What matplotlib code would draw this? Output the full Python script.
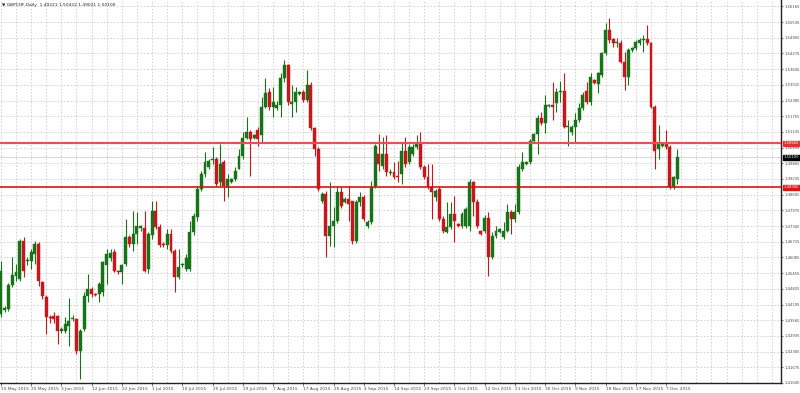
import matplotlib
matplotlib.use("Agg")
import matplotlib.pyplot as plt
import numpy as np

# ---------------- data (GBPCHF daily candles) ----------------
opens = [
    1.4382, 1.4398, 1.4402, 1.4498, 1.4534, 1.4522, 1.4674, 1.4594, 1.4594, 1.4622,
    1.4662, 1.4510, 1.4450, 1.4370, 1.4374, 1.4374, 1.4314, 1.4314, 1.4334, 1.4362,
    1.4362, 1.4234, 1.4322, 1.4454, 1.4482, 1.4462, 1.4462, 1.4470, 1.4578, 1.4606,
    1.4630, 1.4554, 1.4550, 1.4582, 1.4690, 1.4662, 1.4702, 1.4726, 1.4726, 1.4562,
    1.4698, 1.4794, 1.4730, 1.4662, 1.4658, 1.4702, 1.4634, 1.4530, 1.4578, 1.4562,
    1.4562, 1.4710, 1.4770, 1.4882, 1.4942, 1.4970, 1.4998, 1.5002, 1.4910, 1.4990,
    1.4890, 1.4910, 1.4922, 1.4962, 1.5014, 1.5090, 1.5114, 1.5090, 1.5122, 1.5102,
    1.5214, 1.5274, 1.5214, 1.5210, 1.5222, 1.5330, 1.5382, 1.5226, 1.5234, 1.5266,
    1.5274, 1.5242, 1.5302, 1.5130, 1.5042, 1.4834, 1.4862, 1.4694, 1.4734, 1.4754,
    1.4870, 1.4830, 1.4842, 1.4834, 1.4674, 1.4830, 1.4850, 1.4734, 1.4750, 1.4894,
    1.5022, 1.4974, 1.5022, 1.4946, 1.4950, 1.4934, 1.4942, 1.5034, 1.4990, 1.5022,
    1.5050, 1.5062, 1.4970, 1.4930, 1.4890, 1.4850, 1.4882, 1.4762, 1.4710, 1.4730,
    1.4782, 1.4742, 1.4734, 1.4734, 1.4734, 1.4910, 1.4830, 1.4714, 1.4714, 1.4766,
    1.4610, 1.4694, 1.4710, 1.4690, 1.4714, 1.4790, 1.4762, 1.4790, 1.4962, 1.4982,
    1.4990, 1.5074, 1.5106, 1.5170, 1.5150, 1.5218, 1.5222, 1.5230, 1.5274, 1.5278,
    1.5134, 1.5114, 1.5134, 1.5162, 1.5210, 1.5278, 1.5234, 1.5322, 1.5306, 1.5342,
    1.5430, 1.5522, 1.5486, 1.5470, 1.5470, 1.5394, 1.5334, 1.5442, 1.5450, 1.5470,
    1.5482, 1.5486, 1.5470, 1.5214, 1.5042, 1.5054, 1.5066, 1.5050, 1.4890, 1.4922,
]
highs = [
    1.4594, 1.4414, 1.4506, 1.4610, 1.4582, 1.4682, 1.4690, 1.4610, 1.4642, 1.4674,
    1.4670, 1.4514, 1.4458, 1.4378, 1.4390, 1.4378, 1.4330, 1.4370, 1.4446, 1.4378,
    1.4366, 1.4322, 1.4470, 1.4542, 1.4490, 1.4466, 1.4510, 1.4594, 1.4642, 1.4642,
    1.4642, 1.4558, 1.4582, 1.4762, 1.4698, 1.4794, 1.4790, 1.4738, 1.4794, 1.4710,
    1.4834, 1.4834, 1.4742, 1.4670, 1.4722, 1.4722, 1.4642, 1.4642, 1.4586, 1.4622,
    1.4754, 1.4786, 1.4894, 1.4954, 1.5030, 1.5002, 1.5050, 1.5010, 1.5062, 1.4998,
    1.4942, 1.4926, 1.4970, 1.5042, 1.5114, 1.5174, 1.5122, 1.5106, 1.5134, 1.5254,
    1.5330, 1.5290, 1.5294, 1.5238, 1.5350, 1.5402, 1.5386, 1.5302, 1.5294, 1.5278,
    1.5282, 1.5362, 1.5314, 1.5134, 1.5050, 1.4870, 1.4874, 1.4910, 1.4810, 1.4894,
    1.4890, 1.4850, 1.4894, 1.4834, 1.4838, 1.4870, 1.4858, 1.4758, 1.4914, 1.5062,
    1.5106, 1.5094, 1.5102, 1.4962, 1.4990, 1.4994, 1.5070, 1.5094, 1.5062, 1.5062,
    1.5102, 1.5114, 1.4978, 1.4982, 1.4982, 1.4882, 1.4890, 1.4774, 1.4830, 1.4830,
    1.4854, 1.4746, 1.4790, 1.4810, 1.4922, 1.4914, 1.4842, 1.4718, 1.4778, 1.4790,
    1.4710, 1.4734, 1.4726, 1.4750, 1.4822, 1.4798, 1.4822, 1.4982, 1.5030, 1.4994,
    1.5082, 1.5110, 1.5182, 1.5194, 1.5262, 1.5226, 1.5314, 1.5290, 1.5318, 1.5350,
    1.5162, 1.5142, 1.5190, 1.5230, 1.5274, 1.5314, 1.5350, 1.5326, 1.5354, 1.5434,
    1.5550, 1.5570, 1.5490, 1.5490, 1.5482, 1.5434, 1.5450, 1.5454, 1.5482, 1.5490,
    1.5502, 1.5542, 1.5474, 1.5222, 1.5142, 1.5070, 1.5122, 1.5058, 1.4934, 1.5042,
]
lows = [
    1.4370, 1.4390, 1.4394, 1.4490, 1.4514, 1.4514, 1.4530, 1.4578, 1.4562, 1.4582,
    1.4494, 1.4442, 1.4302, 1.4346, 1.4346, 1.4262, 1.4306, 1.4306, 1.4254, 1.4354,
    1.4222, 1.4122, 1.4314, 1.4430, 1.4450, 1.4454, 1.4430, 1.4454, 1.4502, 1.4594,
    1.4550, 1.4542, 1.4502, 1.4574, 1.4650, 1.4634, 1.4662, 1.4714, 1.4550, 1.4546,
    1.4682, 1.4722, 1.4650, 1.4650, 1.4642, 1.4626, 1.4470, 1.4522, 1.4570, 1.4554,
    1.4554, 1.4698, 1.4754, 1.4874, 1.4930, 1.4962, 1.4982, 1.4894, 1.4894, 1.4834,
    1.4850, 1.4906, 1.4914, 1.4962, 1.5002, 1.5082, 1.4934, 1.5086, 1.5054, 1.5070,
    1.5210, 1.5202, 1.5174, 1.5202, 1.5174, 1.5314, 1.5222, 1.5174, 1.5194, 1.5262,
    1.5234, 1.5234, 1.5122, 1.5014, 1.4874, 1.4826, 1.4610, 1.4654, 1.4650, 1.4746,
    1.4806, 1.4826, 1.4754, 1.4662, 1.4666, 1.4814, 1.4754, 1.4726, 1.4742, 1.4886,
    1.4954, 1.4962, 1.4934, 1.4938, 1.4922, 1.4910, 1.4902, 1.4970, 1.4982, 1.5014,
    1.5042, 1.4962, 1.4922, 1.4882, 1.4762, 1.4834, 1.4754, 1.4706, 1.4706, 1.4722,
    1.4670, 1.4730, 1.4726, 1.4726, 1.4714, 1.4774, 1.4726, 1.4698, 1.4706, 1.4534,
    1.4602, 1.4686, 1.4706, 1.4682, 1.4710, 1.4702, 1.4750, 1.4782, 1.4954, 1.4978,
    1.4982, 1.5070, 1.5022, 1.5142, 1.5110, 1.5214, 1.5162, 1.5194, 1.5234, 1.5130,
    1.5054, 1.5102, 1.5070, 1.5154, 1.5202, 1.5226, 1.5222, 1.5306, 1.5270, 1.5334,
    1.5422, 1.5470, 1.5454, 1.5454, 1.5390, 1.5282, 1.5302, 1.5434, 1.5442, 1.5462,
    1.5434, 1.5462, 1.5210, 1.4962, 1.5002, 1.5050, 1.5042, 1.4882, 1.4882, 1.4902,
]
closes = [
    1.4554, 1.4406, 1.4498, 1.4538, 1.4550, 1.4674, 1.4554, 1.4598, 1.4630, 1.4662,
    1.4514, 1.4454, 1.4370, 1.4366, 1.4362, 1.4314, 1.4322, 1.4342, 1.4354, 1.4366,
    1.4234, 1.4314, 1.4454, 1.4482, 1.4462, 1.4458, 1.4502, 1.4590, 1.4622, 1.4626,
    1.4554, 1.4550, 1.4578, 1.4690, 1.4662, 1.4702, 1.4734, 1.4734, 1.4554, 1.4702,
    1.4794, 1.4730, 1.4658, 1.4658, 1.4702, 1.4634, 1.4530, 1.4570, 1.4582, 1.4606,
    1.4710, 1.4774, 1.4882, 1.4942, 1.4990, 1.4994, 1.5002, 1.4902, 1.4982, 1.4894,
    1.4922, 1.4922, 1.4954, 1.5014, 1.5090, 1.5114, 1.5082, 1.5102, 1.5082, 1.5214,
    1.5270, 1.5214, 1.5234, 1.5222, 1.5330, 1.5382, 1.5234, 1.5234, 1.5274, 1.5274,
    1.5242, 1.5302, 1.5130, 1.5042, 1.4882, 1.4862, 1.4694, 1.4734, 1.4754, 1.4870,
    1.4814, 1.4842, 1.4822, 1.4674, 1.4830, 1.4850, 1.4762, 1.4750, 1.4890, 1.5054,
    1.4982, 1.5022, 1.4950, 1.4950, 1.4930, 1.4930, 1.5034, 1.4982, 1.5050, 1.5050,
    1.5062, 1.4970, 1.4930, 1.4890, 1.4870, 1.4874, 1.4762, 1.4714, 1.4730, 1.4782,
    1.4754, 1.4734, 1.4782, 1.4802, 1.4910, 1.4830, 1.4734, 1.4702, 1.4766, 1.4610,
    1.4694, 1.4714, 1.4722, 1.4714, 1.4790, 1.4762, 1.4790, 1.4970, 1.4990, 1.4990,
    1.5074, 1.5106, 1.5170, 1.5150, 1.5222, 1.5222, 1.5214, 1.5274, 1.5278, 1.5134,
    1.5138, 1.5134, 1.5162, 1.5210, 1.5262, 1.5234, 1.5334, 1.5310, 1.5350, 1.5430,
    1.5522, 1.5482, 1.5470, 1.5474, 1.5394, 1.5334, 1.5442, 1.5450, 1.5474, 1.5482,
    1.5484, 1.5470, 1.5214, 1.5034, 1.5062, 1.5066, 1.5050, 1.4890, 1.4930, 1.5010,
]

date_labels = ["15 May 2015", "25 May 2015", "3 Jun 2015", "12 Jun 2015", "22 Jun 2015",
               "1 Jul 2015", "10 Jul 2015", "20 Jul 2015", "29 Jul 2015", "7 Aug 2015",
               "17 Aug 2015", "26 Aug 2015", "4 Sep 2015", "14 Sep 2015", "23 Sep 2015",
               "2 Oct 2015", "12 Oct 2015", "21 Oct 2015", "30 Oct 2015", "9 Nov 2015",
               "18 Nov 2015", "27 Nov 2015", "7 Dec 2015"]
label_every = 8

price_ticks = [1.41045, 1.41675, 1.42305, 1.42935, 1.43565, 1.44195, 1.44825, 1.45455,
               1.46085, 1.46715, 1.47345, 1.47975, 1.48605, 1.49235, 1.49865, 1.50495,
               1.51125, 1.51755, 1.52385, 1.53015, 1.53645, 1.54275, 1.54905, 1.55535,
               1.56165]

level_lines = [1.5066, 1.4890]
title_text = "\u25bc GBPCHF,Daily  1.49221 1.50422 1.49021 1.50100"

# ---------------- figure ----------------
W, H = 800, 393
fig = plt.figure(figsize=(W / 100, H / 100), dpi=100)
fig.patch.set_facecolor("white")
ax = fig.add_axes([0.0, 10 / H, 781 / W, 383 / H])
ax.set_facecolor("white")

n = len(opens)
x = np.arange(n)
o = np.array(opens); h = np.array(highs); l = np.array(lows); c = np.array(closes)
up = c >= o
col_up = "#177317"
col_dn = "#c8161c"
colors = np.where(up, col_up, col_dn)

ax.vlines(x, l, h, colors=colors, linewidth=0.8, zorder=3)
bottoms = np.minimum(o, c)
heights = np.maximum(np.abs(c - o), 0.00012)
ax.bar(x, heights, bottom=bottoms, width=0.78, color=colors, edgecolor=colors,
       linewidth=0.3, zorder=4)

ax.set_xlim(-0.24, 206.4)
ax.set_ylim(1.4110, 1.5642)

# grid
for gx in range(0, 208, 4):
    ax.axvline(gx, color="#cccccc", linewidth=0.6, linestyle=(0, (2, 2)), zorder=1)
for gy in price_ticks:
    ax.axhline(gy, color="#cccccc", linewidth=0.6, linestyle=(0, (2, 2)), zorder=1)

# level lines
ax.axhline(level_lines[0], color="#e35353", linewidth=1.6, zorder=5)
ax.axhline(level_lines[1], color="#d01818", linewidth=1.2, zorder=5)
ax.axhline(closes[-1], color="#d8d8d8", linewidth=0.7, zorder=2)

# axes styling
for s in ["top", "left"]:
    ax.spines[s].set_visible(False)
ax.spines["right"].set_color("#222222")
ax.spines["bottom"].set_color("#222222")
ax.spines["right"].set_linewidth(1.0)
ax.spines["bottom"].set_linewidth(1.0)

ax.yaxis.tick_right()
ax.set_yticks(price_ticks)
ax.set_yticklabels([f"{v:.5f}" for v in price_ticks], fontsize=2.7, color="#444444")
ax.tick_params(axis="y", length=1.5, width=0.5, pad=0.8, colors="#444444")

xt = [i * label_every for i in range(len(date_labels))]
ax.set_xticks(xt)
ax.set_xticklabels(date_labels, fontsize=3.1, color="#444444", ha="left")
ax.tick_params(axis="x", length=2, width=0.5, pad=1.2, colors="#444444")

# price boxes on right axis
def box(y, text, fc):
    ax.text(1.003, y, text, transform=ax.get_yaxis_transform(), fontsize=2.7,
            color="white", va="center", ha="left",
            bbox=dict(boxstyle="square,pad=0.2", fc=fc, ec=fc), zorder=10,
            clip_on=False)

box(level_lines[0], f"{level_lines[0]:.5f}", "#e03030")
box(level_lines[1], f"{level_lines[1]:.5f}", "#d01818")
box(closes[-1], f"{closes[-1]:.5f}", "#000000")

ax.text(0.003, 0.992, title_text, transform=ax.transAxes, fontsize=3.2,
        color="#222222", va="top", ha="left", zorder=10)

fig.savefig("out.png", dpi=100, facecolor="white")
